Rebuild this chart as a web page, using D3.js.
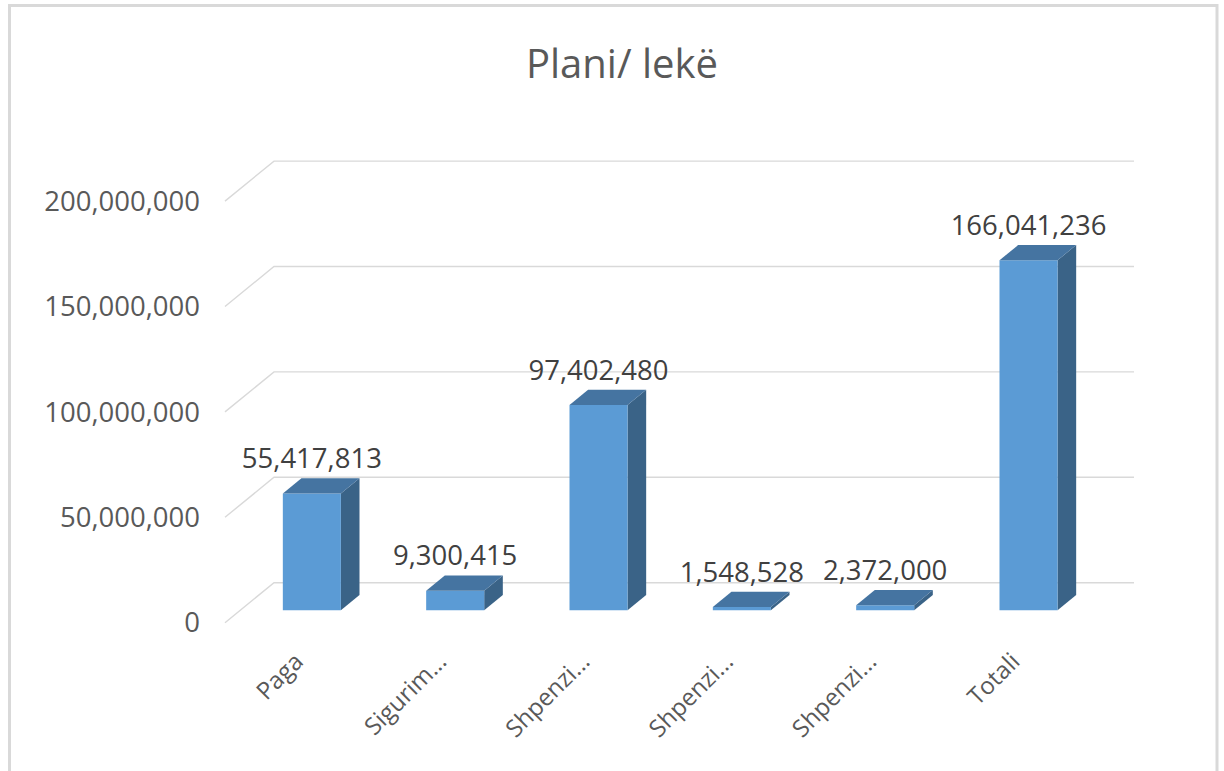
<!DOCTYPE html>
<html>
<head>
<meta charset="utf-8">
<script src="https://cdn.jsdelivr.net/npm/d3@7"></script>
<style>
  html, body { margin: 0; padding: 0; background: #fff; }
  svg { display: block; font-family: "Open Sans", "Noto Sans", sans-serif; }
</style>
</head>
<body>
<div id="chart"></div>
<script>
const categories = ["Paga", "Sigurim...", "Shpenzi...", "Shpenzi...", "Shpenzi...", "Totali"];
const values = [55417813, 9300415, 97402480, 1548528, 2372000, 166041236];
const yTicks = [0, 50000000, 100000000, 150000000, 200000000];

const W = 1224, H = 771;

// 3D floor: front-left corner of the plot and the depth offset to the back wall
const floorLeft = 225, floorWidth = 860, floorFront = 622.7;
const depthDx = 49, depthDy = 40;
const barD0 = 0.31, barD1 = 0.69; // bar depth range as a fraction of the floor depth

const gridColor = "#d9d9d9";
const frontColor = "#5b9bd5";
const topColor = "#4574a1";
const sideColor = "#3a6387";

const fmt = d3.format(",");

const svg = d3.select("#chart").append("svg")
  .attr("width", W)
  .attr("height", H);

// frame
svg.append("rect")
  .attr("x", 9.5).attr("y", 5.5)
  .attr("width", 1217 - 9.5).attr("height", H + 10)
  .attr("fill", "#fff")
  .attr("stroke", "#d9d9d9")
  .attr("stroke-width", 3);

svg.append("text")
  .attr("x", 622)
  .attr("y", 78)
  .attr("text-anchor", "middle")
  .attr("font-size", "40px")
  .attr("fill", "#595959")
  .text("Plani/ lekë");

const x = d3.scaleBand()
  .domain(d3.range(categories.length))
  .range([0, floorWidth])
  .paddingInner(0.595)
  .paddingOuter(0.2975);

const y = d3.scaleLinear()
  .domain([0, 200000000])
  .range([0, 421.6]);

// project a point on (floor x, depth fraction, value) to the screen
const px = (fx, d) => floorLeft + fx + depthDx * d;
const py = (v, d) => floorFront - depthDy * d - y(v);

// gridlines: diagonal on the side wall, then across the back wall
const grid = svg.append("g")
  .attr("fill", "none")
  .attr("stroke", gridColor)
  .attr("stroke-width", 1.4);

grid.selectAll("path")
  .data(yTicks)
  .enter()
  .append("path")
  .attr("d", v => "M" + px(0, 0) + "," + py(v, 0) +
    "L" + px(0, 1) + "," + py(v, 1) +
    "L" + px(floorWidth, 1) + "," + py(v, 1));

svg.append("g")
  .selectAll("text")
  .data(yTicks)
  .enter()
  .append("text")
  .attr("x", px(0, 0) - 25)
  .attr("y", v => py(v, 0))
  .attr("dy", "0.35em")
  .attr("text-anchor", "end")
  .attr("font-size", "27.5px")
  .attr("fill", "#595959")
  .text(v => fmt(v));

// bars
const bars = svg.append("g")
  .selectAll("g")
  .data(values)
  .enter()
  .append("g");

const poly = pts => "M" + pts.map(p => p.join(",")).join("L") + "Z";

bars.append("path")
  .attr("fill", sideColor)
  .attr("d", (v, i) => {
    const xr = x(i) + x.bandwidth();
    return poly([
      [px(xr, barD0), py(0, barD0)],
      [px(xr, barD1), py(0, barD1)],
      [px(xr, barD1), py(v, barD1)],
      [px(xr, barD0), py(v, barD0)]
    ]);
  });

bars.append("path")
  .attr("fill", frontColor)
  .attr("d", (v, i) => {
    const xl = x(i), xr = x(i) + x.bandwidth();
    return poly([
      [px(xl, barD0), py(0, barD0)],
      [px(xr, barD0), py(0, barD0)],
      [px(xr, barD0), py(v, barD0)],
      [px(xl, barD0), py(v, barD0)]
    ]);
  });

bars.append("path")
  .attr("fill", topColor)
  .attr("d", (v, i) => {
    const xl = x(i), xr = x(i) + x.bandwidth();
    return poly([
      [px(xl, barD0), py(v, barD0)],
      [px(xr, barD0), py(v, barD0)],
      [px(xr, barD1), py(v, barD1)],
      [px(xl, barD1), py(v, barD1)]
    ]);
  });

// value labels above each bar
bars.append("text")
  .attr("x", (v, i) => px(x(i) + x.bandwidth() / 2, barD0))
  .attr("y", v => py(v, barD1) - 10)
  .attr("text-anchor", "middle")
  .attr("font-size", "27.5px")
  .attr("fill", "#404040")
  .text(v => fmt(v));

// category labels, rotated
svg.append("g")
  .selectAll("text")
  .data(categories)
  .enter()
  .append("text")
  .attr("transform", (c, i) => {
    const cx = px(x(i) + x.bandwidth() / 2, 0) + 8;
    return "translate(" + cx + ",663) rotate(-45)";
  })
  .attr("text-anchor", "end")
  .attr("font-size", "24px")
  .attr("fill", "#595959")
  .text(c => c);
</script>
</body>
</html>
